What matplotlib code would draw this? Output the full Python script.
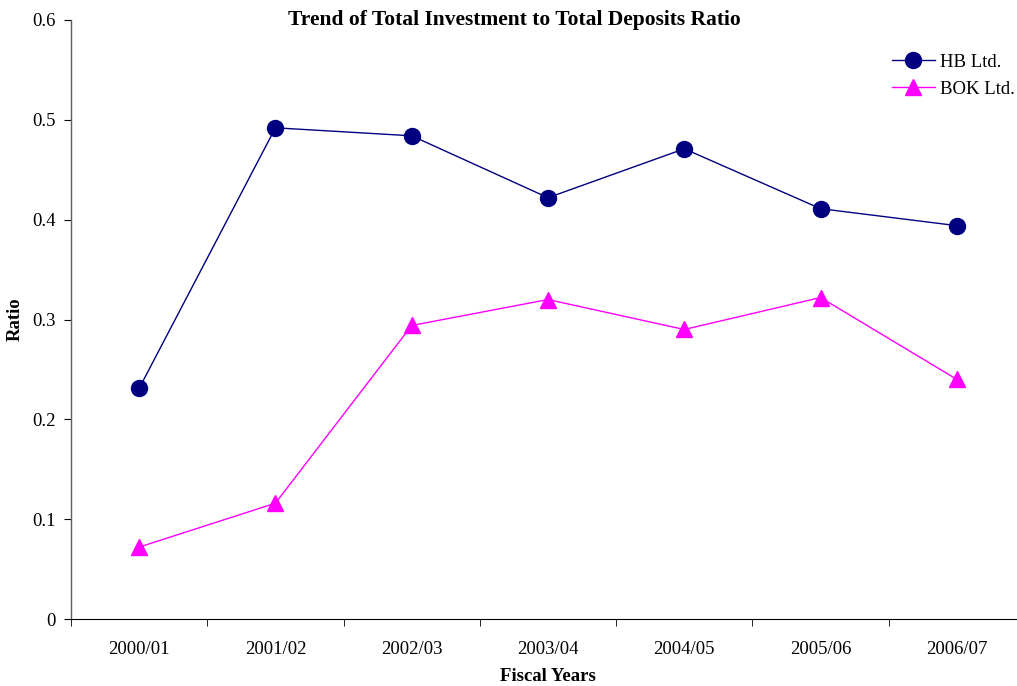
import matplotlib.pyplot as plt
import numpy as np

years = ["2000/01", "2001/02", "2002/03", "2003/04", "2004/05", "2005/06", "2006/07"]
hb_ltd = [0.231, 0.492, 0.484, 0.422, 0.471, 0.411, 0.394]
bok_ltd = [0.072, 0.116, 0.294, 0.320, 0.290, 0.322, 0.240]

plt.rcParams["font.family"] = ["Liberation Serif", "DejaVu Serif"]

fig = plt.figure(figsize=(10.17, 6.86), dpi=100)
ax = fig.add_axes([71 / 1017, 67 / 686, 954 / 1017, 599 / 686])

x = np.arange(len(years))
ax.plot(x, hb_ltd, color="#000080", marker="o", markersize=11.5, linewidth=1, label="HB Ltd.")
ax.plot(x, bok_ltd, color="#FF00FF", marker="^", markersize=11.5, linewidth=1, label="BOK Ltd.")

ax.set_xlim(-0.5, len(years) - 0.5)
ax.set_ylim(0, 0.6)
ax.set_yticks([0, 0.1, 0.2, 0.3, 0.4, 0.5, 0.6])
ax.set_yticklabels(["0", "0.1", "0.2", "0.3", "0.4", "0.5", "0.6"])
ax.set_xticks(x)
ax.set_xticklabels(years)
ax.set_xticks(np.arange(len(years) + 1) - 0.5, minor=True)
ax.tick_params(axis="x", which="major", length=0, labelsize=13.5, pad=16)
ax.tick_params(axis="x", which="minor", length=5, direction="out")
ax.tick_params(axis="y", length=5, direction="out", labelsize=13.5, pad=6)

for side in ["top", "right"]:
    ax.spines[side].set_visible(False)
ax.spines["left"].set_color("#606060")
ax.spines["left"].set_linewidth(1)

ax.set_ylabel("Ratio", fontsize=13.5, fontweight="bold", labelpad=6)
ax.set_xlabel("Fiscal Years", fontsize=13.5, fontweight="bold", labelpad=7)

fig.text(514 / 1017, 1 - 20 / 686, "Trend of Total Investment to Total Deposits Ratio",
         ha="center", va="center", fontsize=15.5, fontweight="bold")

fig.legend(loc="upper right", bbox_to_anchor=(1032 / 1017, 1 - 37 / 686), frameon=False,
           fontsize=13.5, handlelength=2.3, handletextpad=0.3, labelspacing=0.5)

plt.savefig("out.png", dpi=100)
plt.close()
